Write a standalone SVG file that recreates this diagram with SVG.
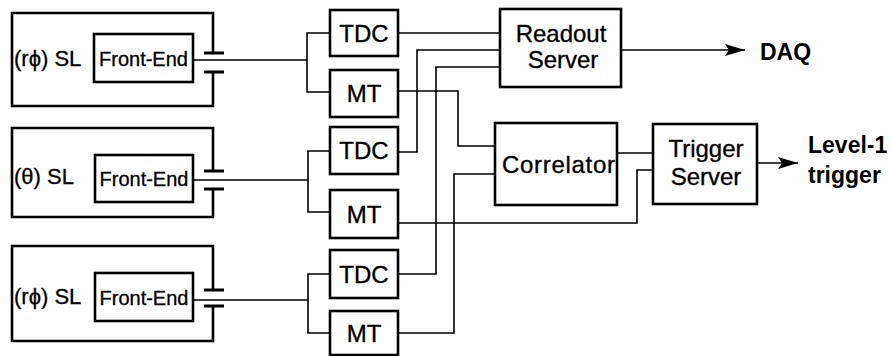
<svg xmlns="http://www.w3.org/2000/svg" width="891" height="356" viewBox="0 0 891 356">
  <style>
    .box { fill: none; stroke: #000; stroke-width: 2.6; }
    .plate { fill: none; stroke: #000; stroke-width: 3; }
    .wire { fill: none; stroke: #000; stroke-width: 1.6; }
    .lbl { font-family: "Liberation Sans", Arial, sans-serif; font-size: 24px; fill: #000; stroke: #000; stroke-width: 0.35; }
    .sl { font-family: "Liberation Sans", "DejaVu Sans", Arial, sans-serif; font-size: 22px; fill: #000; stroke: #000; stroke-width: 0.3; }
    .fe { font-family: "Liberation Sans", Arial, sans-serif; font-size: 20px; fill: #000; stroke: #000; stroke-width: 0.3; text-anchor: middle; }
    .out { font-family: "Liberation Sans", Arial, sans-serif; font-size: 23px; font-weight: bold; fill: #000; }
    .mid { text-anchor: middle; }
  </style>
  <defs>
    <marker id="arrow" viewBox="0 0 20 12" refX="20" refY="6" markerWidth="20" markerHeight="12" markerUnits="userSpaceOnUse" orient="auto">
      <path d="M0,0 L20,6 L0,12 L4,6 Z" fill="#000"/>
    </marker>
  </defs>

  <!-- Super-layer 1 (r-phi) -->
  <g id="sl1">
    <path class="box" d="M213,53 V13 H12 V106 H213 V72"/>
    <line class="plate" x1="204" y1="53" x2="224" y2="53"/>
    <line class="plate" x1="204" y1="72" x2="224" y2="72"/>
    <text class="sl" x="14" y="66">(rϕ) SL</text>
    <rect class="box" x="94" y="34" width="99" height="48"/>
    <text class="fe" x="143.5" y="66">Front-End</text>
  </g>

  <!-- Super-layer 2 (theta) -->
  <g id="sl2">
    <path class="box" d="M213,171 V128 H12 V217 H213 V189"/>
    <line class="plate" x1="204" y1="171" x2="224" y2="171"/>
    <line class="plate" x1="204" y1="189" x2="224" y2="189"/>
    <text class="sl" x="14" y="184">(θ) SL</text>
    <rect class="box" x="95" y="155" width="98" height="47"/>
    <text class="fe" x="144" y="186">Front-End</text>
  </g>

  <!-- Super-layer 3 (r-phi) -->
  <g id="sl3">
    <path class="box" d="M213,290 V246 H12 V341 H213 V306"/>
    <line class="plate" x1="204" y1="290" x2="224" y2="290"/>
    <line class="plate" x1="204" y1="306" x2="224" y2="306"/>
    <text class="sl" x="14" y="304">(rϕ) SL</text>
    <rect class="box" x="95" y="273" width="98" height="48"/>
    <text class="fe" x="144" y="305">Front-End</text>
  </g>

  <!-- TDC / MT boards -->
  <g id="tdc1"><rect class="box" x="330" y="10" width="68" height="46"/><text class="lbl mid" x="364" y="42">TDC</text></g>
  <g id="mt1"><rect class="box" x="330" y="70" width="68" height="47"/><text class="lbl mid" x="364" y="102">MT</text></g>
  <g id="tdc2"><rect class="box" x="330" y="127" width="68" height="47"/><text class="lbl mid" x="364" y="159">TDC</text></g>
  <g id="mt2"><rect class="box" x="330" y="190" width="68" height="48"/><text class="lbl mid" x="364" y="223">MT</text></g>
  <g id="tdc3"><rect class="box" x="330" y="250" width="68" height="48"/><text class="lbl mid" x="364" y="283">TDC</text></g>
  <g id="mt3"><rect class="box" x="330" y="311" width="68" height="44"/><text class="lbl mid" x="364" y="342">MT</text></g>

  <!-- Servers -->
  <g id="readout">
    <rect class="box" x="500" y="9" width="121" height="78"/>
    <text class="lbl mid" x="561" y="42">Readout</text>
    <text class="lbl mid" x="563" y="68">Server</text>
  </g>
  <g id="correlator">
    <rect class="box" x="495" y="123" width="122" height="82"/>
    <text class="lbl" x="502" y="173" font-size="25" textLength="113">Correlator</text>
  </g>
  <g id="trigger">
    <rect class="box" x="653" y="124" width="104" height="80"/>
    <text class="lbl mid" x="706" y="157">Trigger</text>
    <text class="lbl mid" x="706" y="185">Server</text>
  </g>

  <!-- Output labels -->
  <g id="daq"><text class="out" x="760" y="60" font-size="25">DAQ</text></g>
  <g id="level1">
    <text class="out" x="808" y="153">Level-1</text>
    <text class="out" x="808" y="183">trigger</text>
  </g>

  <!-- Connectors -->
  <g id="connectors">
    <!-- front-end links and fan-out to TDC/MT -->
    <line class="wire" x1="193" y1="60" x2="307" y2="60"/>
    <path class="wire" d="M330,33 H307 V92 H330"/>
    <line class="wire" x1="193" y1="180" x2="308" y2="180"/>
    <path class="wire" d="M330,151 H308 V212 H330"/>
    <line class="wire" x1="193" y1="300" x2="308" y2="300"/>
    <path class="wire" d="M330,274 H308 V333 H330"/>

    <!-- TDC data to readout server -->
    <line class="wire" x1="398" y1="33" x2="500" y2="33"/>
    <path class="wire" d="M398,152 H417 V50 H500"/>
    <path class="wire" d="M398,274 H436 V67 H500"/>

    <!-- MT data to correlator / trigger server -->
    <path class="wire" d="M398,91 H458 V146 H495"/>
    <path class="wire" d="M398,333 H454 V174 H495"/>
    <path class="wire" d="M398,223 H637 V170 H653"/>
    <line class="wire" x1="617" y1="153" x2="653" y2="153"/>

    <!-- outputs -->
    <line class="wire" x1="621" y1="50" x2="745" y2="50" marker-end="url(#arrow)"/>
    <line class="wire" x1="757" y1="163" x2="798" y2="163" marker-end="url(#arrow)"/>
  </g>
</svg>
